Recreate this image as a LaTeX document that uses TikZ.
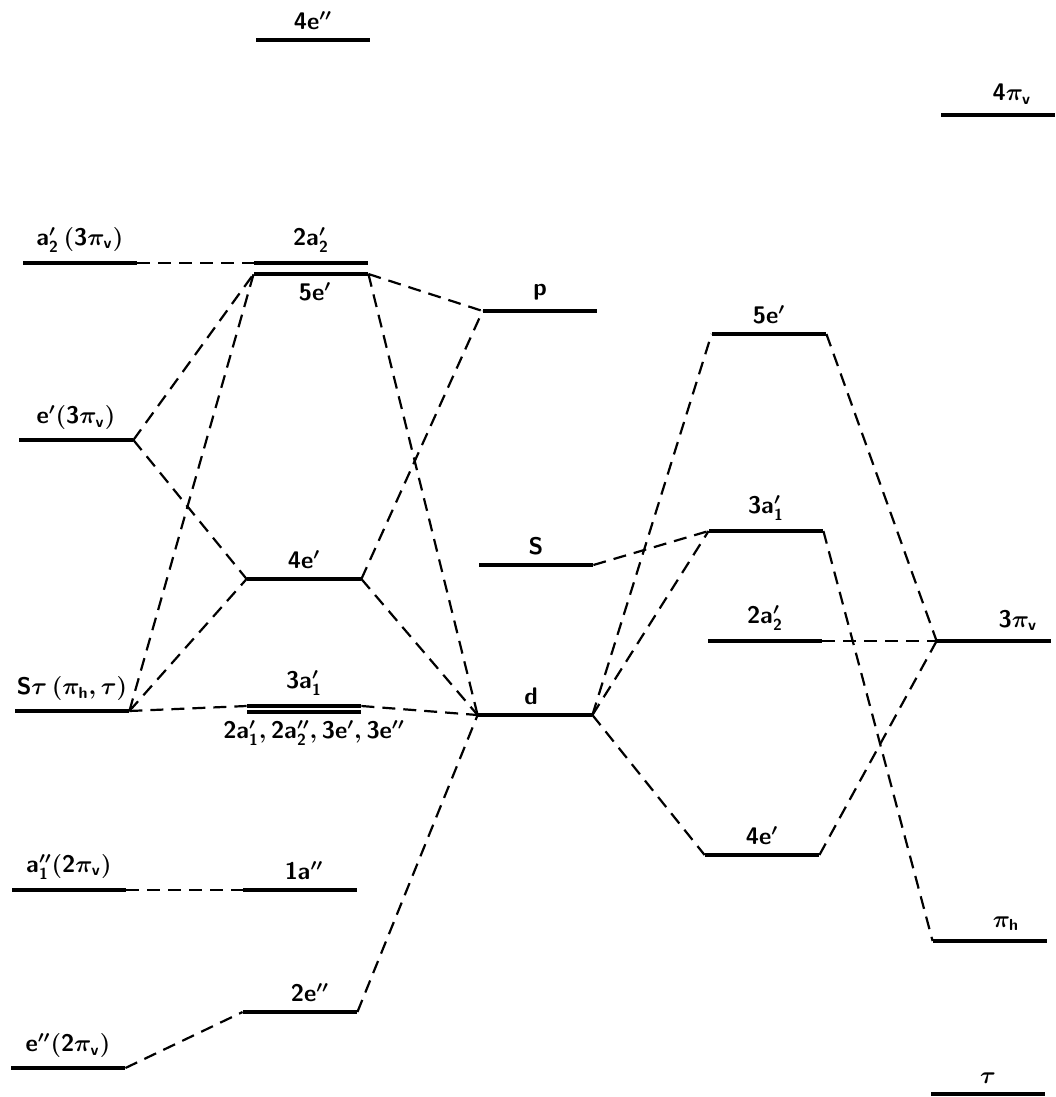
\documentclass[tikz,border=0pt]{standalone}
\usepackage{amsmath,amssymb}
\usepackage{tikz}
\usetikzlibrary{positioning}
\newcommand{\tx}[1]{$\mathsf{#1}$}

\begin{document}
\begin{tikzpicture}[
  x=0.5pt, y=-0.5pt,
  lvl/.style={rectangle, fill=black, inner sep=0pt, minimum width=57pt, minimum height=1.6pt},
  lbl/.style={inner sep=1pt, font=\large\boldmath},
  conn/.style={line width=1.1pt, dash pattern=on 6.5pt off 4pt},
  scale=1
]
\useasboundingbox (0,0) rectangle (1055,1097);

% Ligand levels (left)
\node[lvl] (La2) at (80, 263) {};
\node[lvl] (Le1) at (76, 440) {};
\node[lvl] (Lst) at (72, 711) {};
\node[lvl] (La1) at (69, 890) {};
\node[lvl] (Le2) at (68, 1068) {};
\node[lbl, above=3pt] (tLa2) at (La2.north) {\tx{a'_2\,(3\pi_v)}};
\node[lbl, above=3pt] (tLe1) at (Le1.north) {\tx{e'(3\pi_v)}};
\node[lbl, above=3pt] (tLst) at (Lst.north) {\tx{S\tau\,(\pi_h,\tau)}};
\node[lbl, above=3pt] (tLa1) at (La1.north) {\tx{a''_1(2\pi_v)}};
\node[lbl, above=3pt] (tLe2) at (Le2.north) {\tx{e''(2\pi_v)}};

% Complex levels (middle)
\node[lvl] (M4e2) at (313, 40) {};
\node[lvl] (M2a2) at (311, 263) {};
\node[lvl] (M5e)  at (311, 274) {};
\node[lvl] (M4e)  at (304, 579) {};
\node[lvl] (M3a)  at (304, 706) {};
\node[lvl] (Mgrp) at (304, 712) {};
\node[lvl] (M1a)  at (300, 890) {};
\node[lvl] (M2e)  at (300, 1012) {};
\node[lbl, above=3pt] (tM4e2) at (M4e2.north) {\tx{4e''}};
\node[lbl, above=3pt] (tM2a2) at (M2a2.north) {\tx{2a'_2}};
\node[lbl, below=2pt] (tM5e)  at ([xshift=2pt]M5e.south) {\tx{5e'}};
\node[lbl, above=3pt] (tM4e)  at (M4e.north) {\tx{4e'}};
\node[lbl, above=3pt] (tM3a)  at (M3a.north) {\tx{3a'_1}};
\node[lbl, below=2pt] (tMgrp) at ([xshift=5pt]Mgrp.south) {\tx{2a'_1,2a''_2,3e',3e''}};
\node[lbl, above=3pt] (tM1a)  at ([xshift=2pt]M1a.north) {\tx{1a''}};
\node[lbl, above=3pt] (tM2e)  at ([xshift=5pt]M2e.north) {\tx{2e''}};

% Metal levels
\node[lvl] (Mp) at (540, 311) {};
\node[lvl] (Ms) at (536, 565) {};
\node[lvl] (Md) at (535, 715) {};
\node[lbl, above=3pt] (tMp) at (Mp.north) {\tx{p}};
\node[lbl, above=3pt] (tMs) at (Ms.north) {\tx{S}};
\node[lbl, above=3pt] (tMd) at ([xshift=-2pt]Md.north) {\tx{d}};

% Complex levels (right)
\node[lvl] (R5e)  at (769, 334) {};
\node[lvl] (R3a)  at (766, 531) {};
\node[lvl] (R2a2) at (765, 641) {};
\node[lvl] (R4e)  at (762, 855) {};
\node[lbl, above=3pt] (tR5e)  at (R5e.north) {\tx{5e'}};
\node[lbl, above=3pt] (tR3a)  at (R3a.north) {\tx{3a'_1}};
\node[lbl, above=3pt] (tR2a2) at (R2a2.north) {\tx{2a'_2}};
\node[lbl, above=3pt] (tR4e)  at (R4e.north) {\tx{4e'}};

% Ligand levels (right)
\node[lvl] (F4p) at (998, 115) {};
\node[lvl] (F3p) at (994, 641) {};
\node[lvl] (Fph) at (990, 941) {};
\node[lvl] (Ft)  at (988, 1094) {};
\node[lbl, above=3pt] (tF4p) at ([xshift=7pt]F4p.north) {\tx{4\pi_v}};
\node[lbl, above=3pt] (tF3p) at ([xshift=12pt]F3p.north) {\tx{3\pi_v}};
\node[lbl, above=3pt] (tFph) at ([xshift=8pt]Fph.north) {\tx{\pi_h}};
\node[lbl, above=3pt] (tFt)  at (Ft.north) {\tx{\tau}};

% Correlations, left half
\draw[conn] (La2.east) -- (M2a2.west);
\draw[conn] (Le1.east) -- (M5e.west);
\draw[conn] (Le1.east) -- (M4e.west);
\draw[conn] (Lst.east) -- (M5e.west);
\draw[conn] (Lst.east) -- (M4e.west);
\draw[conn] (Lst.east) -- (M3a.west);
\draw[conn] (La1.east) -- (M1a.west);
\draw[conn] (Le2.east) -- (M2e.west);
\draw[conn] (M5e.east) -- (Mp.west);
\draw[conn] (M5e.east) -- (Md.west);
\draw[conn] (M4e.east) -- (Mp.west);
\draw[conn] (M4e.east) -- (Md.west);
\draw[conn] (M3a.east) -- (Md.west);
\draw[conn] (M2e.east) -- (Md.west);

% Correlations, right half
\draw[conn] (Ms.east) -- (R3a.west);
\draw[conn] (Md.east) -- (R5e.west);
\draw[conn] (Md.east) -- (R3a.west);
\draw[conn] (Md.east) -- (R4e.west);
\draw[conn] (R5e.east) -- (F3p.west);
\draw[conn] (R3a.east) -- (Fph.west);
\draw[conn] (R2a2.east) -- (F3p.west);
\draw[conn] (R4e.east) -- (F3p.west);
\end{tikzpicture}
\end{document}
